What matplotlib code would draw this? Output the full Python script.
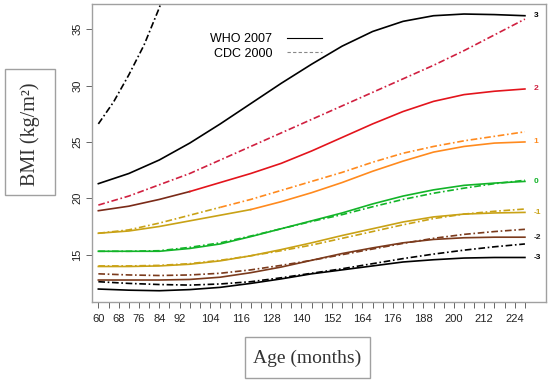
import numpy as np
import matplotlib.pyplot as plt
from matplotlib.lines import Line2D
from matplotlib.patches import Rectangle

# === data ===
months = [60, 72, 84, 96, 108, 120, 132, 144, 156, 168, 180, 192, 204, 216, 228]

who_p3 = [21.3, 22.2, 23.4, 24.9, 26.6, 28.4, 30.2, 31.9, 33.5, 34.8, 35.7, 36.2, 36.35, 36.3, 36.2]
who_p2 = [18.9, 19.3, 19.9, 20.6, 21.4, 22.2, 23.1, 24.2, 25.4, 26.6, 27.7, 28.6, 29.2, 29.5, 29.7]
who_p1 = [16.9, 17.1, 17.5, 18.0, 18.5, 19.0, 19.7, 20.5, 21.4, 22.4, 23.3, 24.1, 24.6, 24.9, 25.0]
who_0 = [15.3, 15.3, 15.3, 15.55, 15.95, 16.6, 17.3, 18.0, 18.7, 19.5, 20.2, 20.75, 21.15, 21.35, 21.5]
who_m1 = [13.95, 13.95, 14.0, 14.15, 14.45, 14.9, 15.45, 16.05, 16.7, 17.3, 17.9, 18.35, 18.6, 18.7, 18.75]
who_m2 = [12.75, 12.75, 12.75, 12.8, 13.0, 13.4, 13.9, 14.5, 15.1, 15.6, 16.05, 16.35, 16.5, 16.55, 16.55]
who_m3 = [11.95, 11.85, 11.8, 11.9, 12.1, 12.45, 12.85, 13.3, 13.65, 14.0, 14.35, 14.55, 14.7, 14.75, 14.75]

cdc_p3_months = [60, 66, 72, 78, 84, 87]
cdc_p3 = [26.6, 28.55, 30.95, 33.6, 36.9, 38.8]
cdc_p2 = [19.4, 20.2, 21.2, 22.2, 23.4, 24.6, 25.8, 27.0, 28.2, 29.4, 30.6, 31.8, 33.1, 34.5, 35.9]
cdc_p1 = [16.9, 17.2, 17.8, 18.5, 19.2, 19.9, 20.7, 21.5, 22.3, 23.2, 24.0, 24.6, 25.1, 25.5, 25.9]
cdc_0 = [15.3, 15.3, 15.35, 15.65, 16.05, 16.65, 17.3, 17.95, 18.55, 19.25, 19.9, 20.45, 20.9, 21.3, 21.6]
cdc_m1 = [14.0, 14.0, 14.05, 14.2, 14.5, 14.9, 15.35, 15.85, 16.45, 17.05, 17.65, 18.2, 18.6, 18.85, 19.05]
cdc_m2 = [13.3, 13.2, 13.15, 13.2, 13.35, 13.65, 14.05, 14.5, 15.0, 15.5, 16.0, 16.45, 16.8, 17.05, 17.25]
cdc_m3 = [12.6, 12.45, 12.35, 12.3, 12.4, 12.6, 12.95, 13.35, 13.75, 14.2, 14.65, 15.05, 15.4, 15.7, 15.95]

z_labels = ['3', '2', '1', '0', '-1', '-2', '-3']
z_label_y = [36.2, 29.7, 25.0, 21.5, 18.75, 16.55, 14.75]

x_tick_labels = [60, 68, 76, 84, 92, 104, 116, 128, 140, 152, 164, 176, 188, 200, 212, 224]

# colours
BLACK = '#000000'
RED = '#e3141c'
RED_D = '#d02040'
BROWN_R = '#7a2a18'
ORANGE = '#ff8a1e'
GOLD = '#c9a216'
GREEN = '#12b428'
BROWN = '#7b3a1c'
GREY = '#a0a0a0'

cdc_ls = (0, (4, 1.6, 1, 1.6))
lw = 1.2

fig = plt.figure(figsize=(5.5, 3.85), dpi=100)
ax = fig.add_axes([92 / 550, 1 - 302 / 385, 454 / 550, 298 / 385])

def seg(x, y, a, b):
    i0 = x.index(a)
    i1 = x.index(b)
    return x[i0:i1 + 1], y[i0:i1 + 1]

# WHO solid lines
ax.plot(months, who_p3, color=BLACK, lw=lw)
ax.plot(*seg(months, who_p2, 60, 96), color=BROWN_R, lw=lw)
ax.plot(*seg(months, who_p2, 96, 228), color=RED, lw=lw)
ax.plot(*seg(months, who_p1, 60, 120), color=GOLD, lw=lw)
ax.plot(*seg(months, who_p1, 120, 228), color=ORANGE, lw=lw)
ax.plot(months, who_0, color=GREEN, lw=lw)
ax.plot(months, who_m1, color=GOLD, lw=lw)
ax.plot(months, who_m2, color=BROWN, lw=lw)
ax.plot(months, who_m3, color=BLACK, lw=lw)

# CDC dash-dot lines
ax.plot(cdc_p3_months, cdc_p3, color=BLACK, lw=lw, ls=cdc_ls)
ax.plot(months, cdc_p2, color=RED_D, lw=lw, ls=cdc_ls)
ax.plot(*seg(months, cdc_p1, 60, 108), color=GOLD, lw=lw, ls=cdc_ls)
ax.plot(*seg(months, cdc_p1, 108, 228), color=ORANGE, lw=lw, ls=cdc_ls)
ax.plot(months, cdc_0, color=GREEN, lw=lw, ls=cdc_ls)
ax.plot(months, cdc_m1, color=GOLD, lw=lw, ls=cdc_ls)
ax.plot(months, cdc_m2, color=BROWN, lw=lw, ls=cdc_ls)
ax.plot(months, cdc_m3, color=BLACK, lw=lw, ls=cdc_ls)

# z-score labels on the right
lab_cols = [BLACK, RED_D, ORANGE, GREEN, GOLD, '#222222', BLACK]
for t, yv, c in zip(z_labels, z_label_y, lab_cols):
    ax.text(231.5, yv, t, color=c, fontsize=6, fontweight='bold',
            ha='left', va='center', family='Liberation Sans')

ax.set_xlim(57.5, 236.3)
ax.set_ylim(10.8, 37.24)

ax.set_xticks(np.arange(60, 229, 4), minor=True)
ax.set_xticks(x_tick_labels)
ax.set_xticklabels([str(v) for v in x_tick_labels])
ax.set_yticks([15, 20, 25, 30, 35])
ax.tick_params(axis='both', which='both', direction='out', color='#666666',
               labelsize=8, labelcolor='#222222', length=4, width=0.7)
ax.tick_params(axis='x', pad=5)
ax.tick_params(axis='y', pad=3)
for lab in ax.get_yticklabels():
    lab.set_rotation(90)
    lab.set_va('center')
    lab.set_family('Liberation Sans')
for lab in ax.get_xticklabels():
    lab.set_family('Liberation Sans')
for s in ax.spines.values():
    s.set_color(GREY)
    s.set_linewidth(1.0)

# legend
handles = [Line2D([], [], color=BLACK, lw=0.8),
           Line2D([], [], color='#888888', lw=0.8, ls=(0, (3, 2)))]
ax.legend(handles, ['WHO 2007', 'CDC 2000'], markerfirst=False, frameon=False,
          loc='upper left', bbox_to_anchor=((204 - 92) / 454, (302 - 27) / 298),
          borderpad=0, handlelength=2.8, handletextpad=1.2, labelspacing=0.2,
          prop={'family': 'Liberation Sans', 'size': 9})

# axis title boxes
fig.add_artist(Rectangle((5 / 550, 1 - 195 / 385), 50 / 550, 126 / 385,
                         transform=fig.transFigure, facecolor='white',
                         edgecolor=GREY, lw=1.0))
fig.text(30 / 550, 1 - 134 / 385, 'BMI (kg/m²)', rotation=90, ha='center',
         va='center', fontsize=14.5, family='Liberation Serif', color='#333333')

fig.add_artist(Rectangle((245 / 550, 1 - 378 / 385), 125 / 550, 41 / 385,
                         transform=fig.transFigure, facecolor='white',
                         edgecolor=GREY, lw=1.0))
fig.text(307.5 / 550, 1 - 358 / 385, 'Age (months)', ha='center', va='center',
         fontsize=14, family='Liberation Serif', color='#333333')

fig.savefig('out.png', dpi=100)
